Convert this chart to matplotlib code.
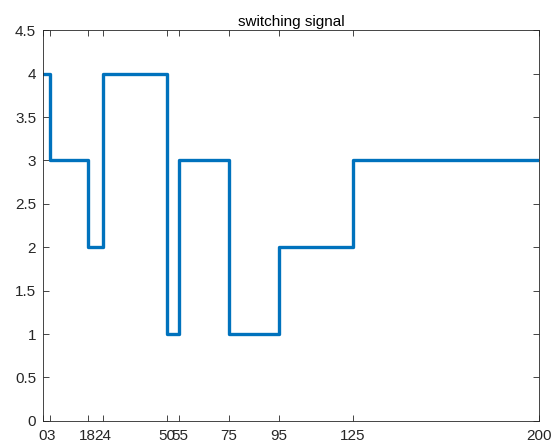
import matplotlib
matplotlib.use("Agg")
import matplotlib.pyplot as plt

switch_times = [0, 3, 18, 24, 50, 55, 75, 95, 125, 200]
mode_values = [4, 3, 2, 4, 1, 3, 1, 2, 3, 3]
x_ticks = [0, 3, 18, 24, 50, 55, 75, 95, 125, 200]
y_ticks = [0, 0.5, 1, 1.5, 2, 2.5, 3, 3.5, 4, 4.5]

plt.rcParams['font.family'] = ['Liberation Sans', 'DejaVu Sans']
fig = plt.figure(figsize=(5.59, 4.44), dpi=100)
ax = fig.add_axes([0.077, 0.052, 0.887, 0.880])
ax.step(switch_times, mode_values, where='post', color='#0072BD', linewidth=2.4)
ax.set_xlim(0, 200)
ax.set_ylim(0, 4.5)
ax.set_xticks(x_ticks)
ax.set_xticklabels([str(t) for t in x_ticks])
ax.set_yticks(y_ticks)
ax.set_yticklabels(['0', '0.5', '1', '1.5', '2', '2.5', '3', '3.5', '4', '4.5'])
ax.tick_params(direction='in', top=True, right=True, labelsize=11, colors='#262626', length=4, width=0.6)
ax.tick_params(axis='x', pad=6)
ax.tick_params(axis='y', pad=5)
for s in ax.spines.values():
    s.set_color('#262626')
    s.set_linewidth(0.6)
ax.set_title('switching signal', fontsize=11, color='black', pad=3)
fig.savefig('out.png', dpi=100)
